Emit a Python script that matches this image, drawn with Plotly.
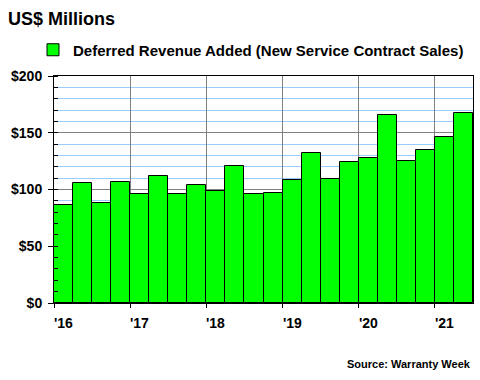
import plotly.graph_objects as go

quarters = ["Q1 2016", "Q2 2016", "Q3 2016", "Q4 2016",
            "Q1 2017", "Q2 2017", "Q3 2017", "Q4 2017",
            "Q1 2018", "Q2 2018", "Q3 2018", "Q4 2018",
            "Q1 2019", "Q2 2019", "Q3 2019", "Q4 2019",
            "Q1 2020", "Q2 2020", "Q3 2020", "Q4 2020",
            "Q1 2021", "Q2 2021"]
deferred_revenue = [86, 106, 88, 107, 96, 112, 96, 104, 99, 121, 96,
                    97, 108, 132, 109, 124, 128, 166, 125, 135, 146, 167]
year_labels = ["'16", "'17", "'18", "'19", "'20", "'21"]
year_positions = [0, 4, 8, 12, 16, 20]
y_ticks = [0, 50, 100, 150, 200]
y_tick_labels = ["$0", "$50", "$100", "$150", "$200"]

FONT = "Arial, Liberation Sans, sans-serif"

# plot area in pixels
L, R, T, B = 54, 473, 76, 303
PW, PH = R - L, B - T

def px_x(x):
    return (x - L) / PW

def px_y(y):
    return (B - y) / PH

x_centers = [i + 0.5 for i in range(len(deferred_revenue))]

fig = go.Figure()
fig.add_trace(go.Bar(
    x=x_centers, y=deferred_revenue, width=1.0,
    name="Deferred Revenue Added (New Service Contract Sales)",
    marker=dict(color="#00ff00", line=dict(color="black", width=1)),
    hovertext=quarters,
))

fig.update_layout(
    width=480, height=380,
    margin=dict(l=L, r=480 - R, t=T, b=380 - B, autoexpand=False),
    paper_bgcolor="white", plot_bgcolor="white",
    font=dict(family=FONT, color="black"),
    bargap=0,
    showlegend=True,
    legend=dict(orientation="h", x=px_x(33), xanchor="left", y=px_y(50), yanchor="middle",
                font=dict(size=15, family=FONT, weight="bold"),
                bgcolor="rgba(0,0,0,0)", itemwidth=30),
    title=dict(text="<b>US$ Millions</b>", x=8/480, xanchor="left", y=1-19/380, yanchor="middle",
               font=dict(size=18, family=FONT)),
)

fig.update_xaxes(
    range=[0, 22], tickvals=year_positions, ticktext=[""] * len(year_positions),
    ticks="outside", ticklen=4, tickcolor="black",
    showgrid=True, gridcolor="#808080", gridwidth=1,
    showline=True, linecolor="black", linewidth=1, mirror=True,
    zeroline=False, fixedrange=True, automargin=False,
)
fig.update_yaxes(
    range=[0, 200], tickvals=y_ticks, ticktext=y_tick_labels,
    ticks="outside", ticklen=5, tickcolor="black",
    tickfont=dict(size=14, family=FONT, weight="bold"),
    showgrid=True, gridcolor="#808080", gridwidth=1,
    minor=dict(dtick=10, ticks="inside", ticklen=4, tickcolor="black",
               showgrid=True, gridcolor="#99ccff", gridwidth=1),
    showline=True, linecolor="black", linewidth=1, mirror=True,
    zeroline=False, fixedrange=True, ticklabelstandoff=3, automargin=False,
)

for pos, lab in zip(year_positions, year_labels):
    fig.add_annotation(x=pos, y=px_y(313), xref="x", yref="paper", text="<b>" + lab + "</b>",
                       showarrow=False, xanchor="left", yanchor="top", xshift=-2,
                       font=dict(size=14, family=FONT))

fig.add_annotation(x=px_x(473), y=px_y(364), xref="paper", yref="paper",
                   text="<b>Source: Warranty Week</b>", showarrow=False,
                   xanchor="right", yanchor="middle", font=dict(size=11, family=FONT))

fig.write_html("out.html", config={"displayModeBar": False},
               post_script="document.body.style.margin='0';document.body.style.overflow='hidden';")
